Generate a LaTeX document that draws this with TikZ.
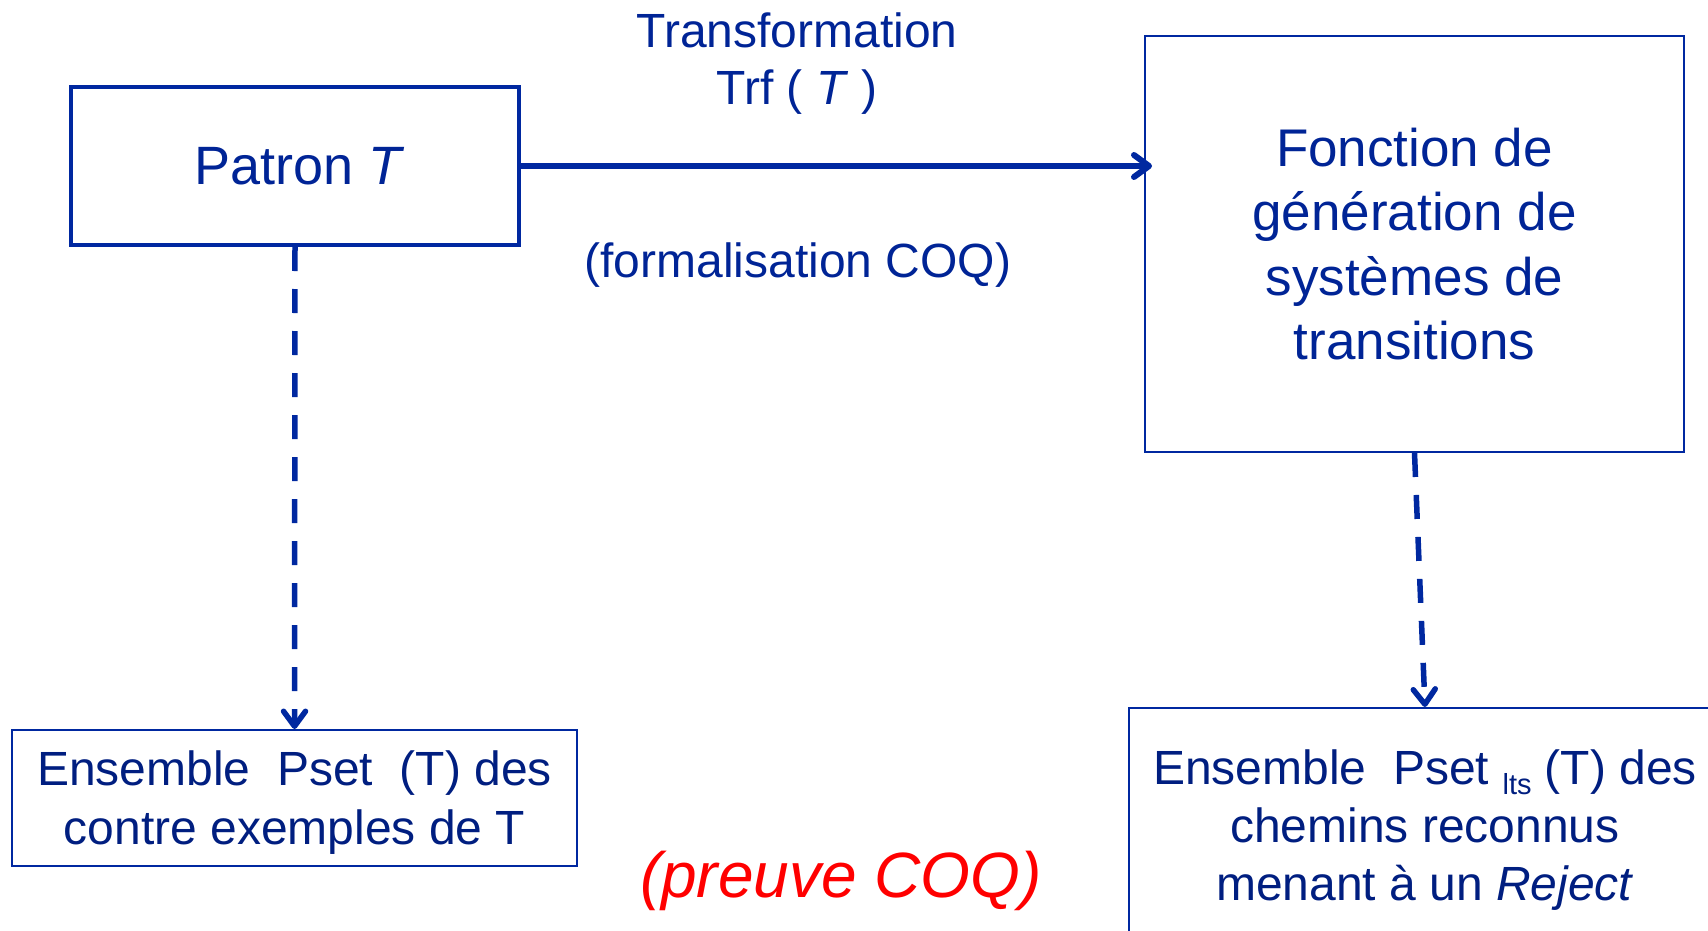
\documentclass[tikz,border=0pt]{standalone}
\usepackage{fontspec}
\setmainfont{Liberation Sans}
\usetikzlibrary{arrows.meta}
\definecolor{lineblue}{RGB}{0,40,160}
\definecolor{textblue}{RGB}{0,36,150}
\definecolor{navytext}{RGB}{0,30,128}
\definecolor{proofred}{RGB}{255,0,0}
\tikzset{
  thickbox/.style={draw=lineblue, line width=4.5pt, inner sep=0pt, text=textblue, align=center},
  thinbox/.style={draw=lineblue, line width=2pt, inner sep=0pt, align=center},
  barb/.tip={Straight Barb[length=15pt, width=22pt, line cap=round, line join=round]},
  mainarrow/.style={draw=lineblue, line width=6pt, -barb},
  dasharrow/.style={draw=lineblue, line width=5.5pt, dash pattern=on 24pt off 18pt, -barb},
  label/.style={text=textblue, align=center, inner sep=0pt}
}
\begin{document}
\begin{tikzpicture}[x=1pt, y=-1pt]
  \useasboundingbox (0,0) rectangle (1708,931);

  % boxes
  \node[thickbox, minimum width=448pt, minimum height=157.5pt,
        font=\fontsize{54}{64}\selectfont] (patron) at (295,166) {\hspace*{9pt}Patron \textit{T}};

  \node[thinbox, text=textblue, minimum width=539pt, minimum height=416pt,
        font=\fontsize{53}{64.5}\selectfont, text depth=0pt] (fonc) at (1414.5,244)
        {Fonction de\\génération de\\systèmes de\\transitions};

  \node[thinbox, text=navytext, minimum width=565pt, minimum height=136pt,
        font=\fontsize{48}{59}\selectfont, text depth=0pt] (psetl) at (294.5,798)
        {Ensemble\ \ Pset\ \ (T) des\\contre exemples de T};

  \node[thinbox, text=navytext, minimum width=592pt, minimum height=244pt,
        font=\fontsize{48}{58}\selectfont] (psetr) at (1425,830)
        {Ensemble\ \ Pset {\fontsize{29}{29}\selectfont\raisebox{-10pt}{lts}} (T) des\\chemins reconnus\\menant à un \textit{Reject}};

  % labels of the transformation arrow
  \node[label, font=\fontsize{48}{57}\selectfont] (trf) at (797,64)
        {Transformation\\Trf ( \textit{T} )};
  \node[label, anchor=base, font=\fontsize{48}{57}\selectfont] (formal) at (798,277)
        {(formalisation COQ)};

  % proof remark
  \node[anchor=base, inner sep=0pt, text=proofred, font=\fontsize{64}{64}\selectfont\itshape]
        (preuve) at (841,897) {(preuve COQ)};

  % connectors
  \draw[mainarrow, shorten >=-8pt] (patron.east) -- (patron.east -| fonc.west);
  \draw[dasharrow] (patron.south) -- (psetl.north);
  \draw[dasharrow] (fonc.south) -- (psetr.north);
\end{tikzpicture}
\end{document}
